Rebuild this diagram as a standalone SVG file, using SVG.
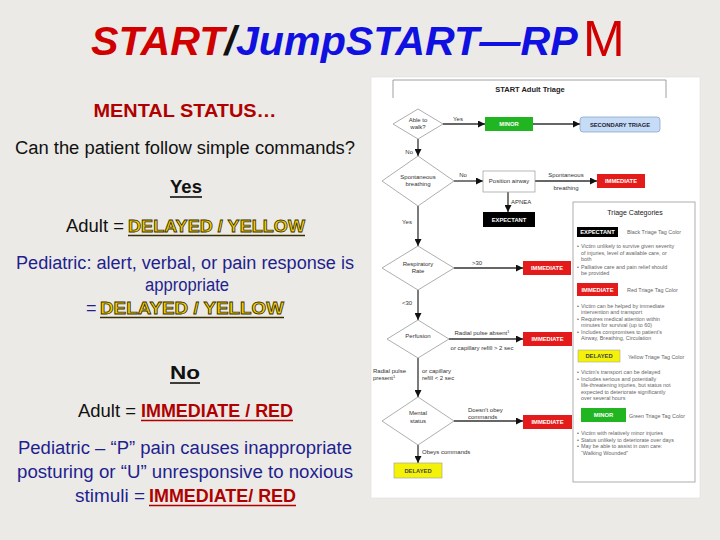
<svg xmlns="http://www.w3.org/2000/svg" width="720" height="540" viewBox="0 0 720 540">
<defs>
<style>
.f{font-family:"Liberation Sans",Arial,sans-serif}
.ti{font-family:"Liberation Sans",Arial,sans-serif;font-weight:bold;font-style:italic;font-size:41.2px}
.L{font-family:"Liberation Sans",Arial,sans-serif;font-size:18px}
.nv{fill:#1f1f8f}
.dr{fill:#b00000;font-weight:bold}
.yl{fill:#f4d000;stroke:#3a2e00;stroke-width:0.8;font-weight:bold;font-size:17px}
.s{font-family:"Liberation Sans",Arial,sans-serif;font-size:6px;fill:#333}
.bx{font-family:"Liberation Sans",Arial,sans-serif;font-size:5.8px;font-weight:bold;text-anchor:middle}
.bt{font-family:"Liberation Sans",Arial,sans-serif;font-size:5.4px;fill:#666}
.dm{fill:#fff;stroke:#999;stroke-width:0.8}
.cn{stroke:#333;stroke-width:1.3;fill:none;marker-end:url(#ah)}
</style>
<marker id="ah" viewBox="0 0 10 10" refX="10" refY="5" markerUnits="userSpaceOnUse" markerWidth="7" markerHeight="7" orient="auto"><path d="M0,0 L10,5 L0,10 z" fill="#111"/></marker>
</defs>
<rect width="720" height="540" fill="#ebeae6"/>

<g id="title">
<text class="ti" x="91" y="55"><tspan fill="#d00000">START</tspan><tspan fill="#111">/</tspan><tspan fill="#1010e0">JumpSTART—RP</tspan><tspan x="583" y="56" fill="#d00000" font-style="normal" font-weight="normal" font-size="50">M</tspan></text>
</g>

<g id="left-text">
<text class="L dr" x="185" y="117" text-anchor="middle" textLength="183" lengthAdjust="spacingAndGlyphs">MENTAL STATUS…</text>
<text class="L" x="185" y="154" text-anchor="middle" fill="#111" textLength="340" lengthAdjust="spacingAndGlyphs">Can the patient follow simple commands?</text>
<text class="L" x="186" y="193" text-anchor="middle" fill="#111" font-weight="bold" textLength="32" lengthAdjust="spacingAndGlyphs">Yes</text>
<line x1="170" y1="197" x2="202" y2="197" stroke="#111" stroke-width="1.6"/>
<text class="L" x="66" y="232" fill="#111" textLength="58" lengthAdjust="spacingAndGlyphs">Adult =</text>
<text class="f yl" x="128" y="232" textLength="177" lengthAdjust="spacingAndGlyphs">DELAYED / YELLOW</text>
<line x1="128" y1="235.5" x2="305" y2="235.5" stroke="#3a2e00" stroke-width="1.5"/>
<text class="L nv" x="185" y="269" text-anchor="middle" textLength="338" lengthAdjust="spacingAndGlyphs">Pediatric: alert, verbal, or pain response is</text>
<text class="L nv" x="187" y="291" text-anchor="middle" textLength="84" lengthAdjust="spacingAndGlyphs">appropriate</text>
<text class="L nv" x="86" y="314">=</text>
<text class="f yl" x="100" y="314" textLength="184" lengthAdjust="spacingAndGlyphs">DELAYED /  YELLOW</text>
<line x1="100" y1="317.5" x2="284" y2="317.5" stroke="#3a2e00" stroke-width="1.5"/>
<text class="L" x="185" y="379" text-anchor="middle" fill="#111" font-weight="bold" textLength="30" lengthAdjust="spacingAndGlyphs">No</text>
<line x1="170" y1="383" x2="200" y2="383" stroke="#111" stroke-width="1.6"/>
<text class="L" x="78" y="417" fill="#111" textLength="58" lengthAdjust="spacingAndGlyphs">Adult =</text>
<text class="L dr" x="141" y="417" textLength="152" lengthAdjust="spacingAndGlyphs">IMMEDIATE / RED</text>
<line x1="141" y1="420.5" x2="293" y2="420.5" stroke="#b00000" stroke-width="1.5"/>
<text class="L nv" x="185" y="454" text-anchor="middle" textLength="334" lengthAdjust="spacingAndGlyphs">Pediatric – “P” pain causes inappropriate</text>
<text class="L nv" x="185" y="478" text-anchor="middle" textLength="336" lengthAdjust="spacingAndGlyphs">posturing or “U” unresponsive to noxious</text>
<text class="L nv" x="75" y="502" textLength="70" lengthAdjust="spacingAndGlyphs">stimuli =</text>
<text class="L dr" x="149" y="502" textLength="147" lengthAdjust="spacingAndGlyphs">IMMEDIATE/ RED</text>
<line x1="149" y1="505.5" x2="296" y2="505.5" stroke="#b00000" stroke-width="1.5"/>
</g>

<rect x="371" y="77" width="329" height="421" fill="#fff" stroke="#ddd" stroke-width="0.6"/>
<g id="chart-title">
<path d="M393,98 V80 H666 V98" fill="none" stroke="#888" stroke-width="0.8"/>
<text class="f" x="530" y="92" text-anchor="middle" font-size="7.5" font-weight="bold" fill="#222">START Adult Triage</text>
</g>

<g id="connectors">
<line class="cn" x1="443" y1="124" x2="485" y2="124"/>
<line class="cn" x1="533" y1="124" x2="580" y2="124"/>
<line class="cn" x1="418" y1="139" x2="418" y2="156"/>
<line class="cn" x1="454" y1="181" x2="483" y2="181"/>
<line class="cn" x1="535" y1="181" x2="597" y2="181"/>
<line class="cn" x1="508" y1="192" x2="508" y2="212"/>
<line class="cn" x1="418" y1="206" x2="418" y2="246"/>
<line class="cn" x1="454" y1="268" x2="523" y2="268"/>
<line class="cn" x1="418" y1="290" x2="418" y2="320"/>
<line class="cn" x1="449" y1="339" x2="523" y2="339"/>
<line class="cn" x1="418" y1="358" x2="418" y2="397"/>
<line class="cn" x1="454" y1="421" x2="523" y2="421"/>
<line class="cn" x1="418" y1="445" x2="418" y2="463"/>
<text class="s" x="458" y="121" text-anchor="middle">Yes</text>
<text class="s" x="413" y="154" text-anchor="end">No</text>
<text class="s" x="463" y="177" text-anchor="middle">No</text>
<text class="s" x="566" y="177" text-anchor="middle">Spontaneous</text>
<text class="s" x="566" y="190" text-anchor="middle">breathing</text>
<text class="s" x="511" y="204">APNEA</text>
<text class="s" x="407" y="224" text-anchor="middle">Yes</text>
<text class="s" x="477" y="265" text-anchor="middle">&gt;30</text>
<text class="s" x="407" y="305" text-anchor="middle">&lt;30</text>
<text class="s" x="482" y="335" text-anchor="middle">Radial pulse absent<tspan font-size="4" dy="-2">1</tspan></text>
<text class="s" x="482" y="350" text-anchor="middle">or capillary refill &gt; 2 sec</text>
<text class="s" x="373" y="373">Radial pulse</text>
<text class="s" x="373" y="380">present<tspan font-size="4" dy="-2">1</tspan></text>
<text class="s" x="422" y="373">or capillary</text>
<text class="s" x="422" y="380">refill &lt; 2 sec</text>
<text class="s" x="468" y="412">Doesn't obey</text>
<text class="s" x="468" y="419">commands</text>
<text class="s" x="422" y="454">Obeys commands</text>
</g>

<g id="able-to-walk">
<polygon class="dm" points="393,124 418,109 443,124 418,139"/>
<text class="s" x="418" y="122" text-anchor="middle" font-size="5.5">Able to</text>
<text class="s" x="418" y="129" text-anchor="middle" font-size="5.5">walk?</text>
</g>
<g id="minor-1">
<rect x="485" y="117" width="48" height="14" fill="#22b522"/>
<text class="bx" x="509" y="126" fill="#fff">MINOR</text>
</g>
<g id="secondary-triage">
<rect x="580" y="117" width="80" height="15" rx="3" fill="#c6dcf6" stroke="#7f9fc4" stroke-width="0.7"/>
<text class="bx" x="620" y="126.5" fill="#223">SECONDARY TRIAGE</text>
</g>
<g id="spontaneous-breathing">
<polygon class="dm" points="382,181 418,156 454,181 418,206"/>
<text class="s" x="418" y="179" text-anchor="middle" font-size="5.5">Spontaneous</text>
<text class="s" x="418" y="186" text-anchor="middle" font-size="5.5">breathing</text>
</g>
<g id="position-airway">
<rect x="483" y="171" width="52" height="21" fill="#fff" stroke="#999" stroke-width="0.7"/>
<text class="s" x="509" y="183" text-anchor="middle">Position airway</text>
</g>
<g id="immediate-1">
<rect x="597" y="174" width="48" height="14" fill="#e41b1b"/>
<text class="bx" x="621" y="183" fill="#fff">IMMEDIATE</text>
</g>
<g id="expectant-1">
<rect x="483" y="212" width="52" height="15" fill="#000"/>
<text class="bx" x="509" y="221.5" fill="#fff">EXPECTANT</text>
</g>
<g id="respiratory-rate">
<polygon class="dm" points="382,268 418,246 454,268 418,290"/>
<text class="s" x="418" y="266" text-anchor="middle" font-size="5.5">Respiratory</text>
<text class="s" x="418" y="273" text-anchor="middle" font-size="5.5">Rate</text>
</g>
<g id="immediate-2">
<rect x="523" y="261" width="48" height="14" fill="#e41b1b"/>
<text class="bx" x="547" y="270" fill="#fff">IMMEDIATE</text>
</g>
<g id="perfusion">
<polygon class="dm" points="387,339 418,320 449,339 418,358"/>
<text class="s" x="418" y="338" text-anchor="middle" font-size="5.5">Perfusion</text>
</g>
<g id="immediate-3">
<rect x="523" y="332" width="49" height="14" fill="#e41b1b"/>
<text class="bx" x="547.5" y="341" fill="#fff">IMMEDIATE</text>
</g>
<g id="mental-status">
<polygon class="dm" points="382,421 418,397 454,421 418,445"/>
<text class="s" x="418" y="415" text-anchor="middle" font-size="5.5">Mental</text>
<text class="s" x="418" y="423" text-anchor="middle" font-size="5.5">status</text>
</g>
<g id="immediate-4">
<rect x="523" y="415" width="49" height="14" fill="#e41b1b"/>
<text class="bx" x="547.5" y="424" fill="#fff">IMMEDIATE</text>
</g>
<g id="delayed-1">
<rect x="394" y="463" width="48" height="15" fill="#f5f20a" stroke="#999" stroke-width="0.6"/>
<text class="bx" x="418" y="472.5" fill="#444">DELAYED</text>
</g>

<g id="triage-categories">
<rect x="573" y="202" width="122" height="280" fill="#fff" stroke="#999" stroke-width="0.8"/>
<text class="f" x="635" y="215" text-anchor="middle" font-size="7" fill="#222">Triage Categories</text>
<rect x="577" y="227" width="41" height="10" fill="#000"/>
<text class="bx" x="597.5" y="234" fill="#fff">EXPECTANT</text>
<text class="bt" x="627" y="234">Black Triage Tag Color</text>
<text class="bt" x="577" y="248">•</text><text class="bt" x="581" y="248">Victim unlikely to survive given severity</text>
<text class="bt" x="581" y="254.5">of injuries, level of available care, or</text>
<text class="bt" x="581" y="261">both</text>
<text class="bt" x="577" y="268.5">•</text><text class="bt" x="581" y="268.5">Palliative care and pain relief should</text>
<text class="bt" x="581" y="275">be provided</text>
<rect x="577" y="283" width="41" height="13" fill="#e41b1b"/>
<text class="bx" x="597.5" y="291.5" fill="#fff">IMMEDIATE</text>
<text class="bt" x="627" y="292">Red Triage Tag Color</text>
<text class="bt" x="577" y="308">•</text><text class="bt" x="581" y="308">Victim can be helped by immediate</text>
<text class="bt" x="581" y="314">intervention and transport</text>
<text class="bt" x="577" y="320.5">•</text><text class="bt" x="581" y="320.5">Requires medical attention within</text>
<text class="bt" x="581" y="326.5">minutes for survival (up to 60)</text>
<text class="bt" x="577" y="333.5">•</text><text class="bt" x="581" y="333.5">Includes compromises to patient's</text>
<text class="bt" x="581" y="339.5">Airway, Breathing, Circulation</text>
<rect x="578" y="350" width="42" height="12" fill="#f5f20a" stroke="#999" stroke-width="0.5"/>
<text class="bx" x="599" y="358" fill="#444">DELAYED</text>
<text class="bt" x="628" y="359">Yellow Triage Tag Color</text>
<text class="bt" x="577" y="374">•</text><text class="bt" x="581" y="374">Victim's transport can be delayed</text>
<text class="bt" x="577" y="380.5">•</text><text class="bt" x="581" y="380.5">Includes serious and potentially</text>
<text class="bt" x="581" y="387">life-threatening injuries, but status not</text>
<text class="bt" x="581" y="393.5">expected to deteriorate significantly</text>
<text class="bt" x="581" y="400">over several hours</text>
<rect x="581" y="408" width="45" height="14" fill="#22b522"/>
<text class="bx" x="603.5" y="417" fill="#fff">MINOR</text>
<text class="bt" x="629" y="418">Green Triage Tag Color</text>
<text class="bt" x="577" y="435">•</text><text class="bt" x="581" y="435">Victim with relatively minor injuries</text>
<text class="bt" x="577" y="441.5">•</text><text class="bt" x="581" y="441.5">Status unlikely to deteriorate over days</text>
<text class="bt" x="577" y="448">•</text><text class="bt" x="581" y="448">May be able to assist in own care:</text>
<text class="bt" x="581" y="454.5">“Walking Wounded”</text>
</g>
</svg>
